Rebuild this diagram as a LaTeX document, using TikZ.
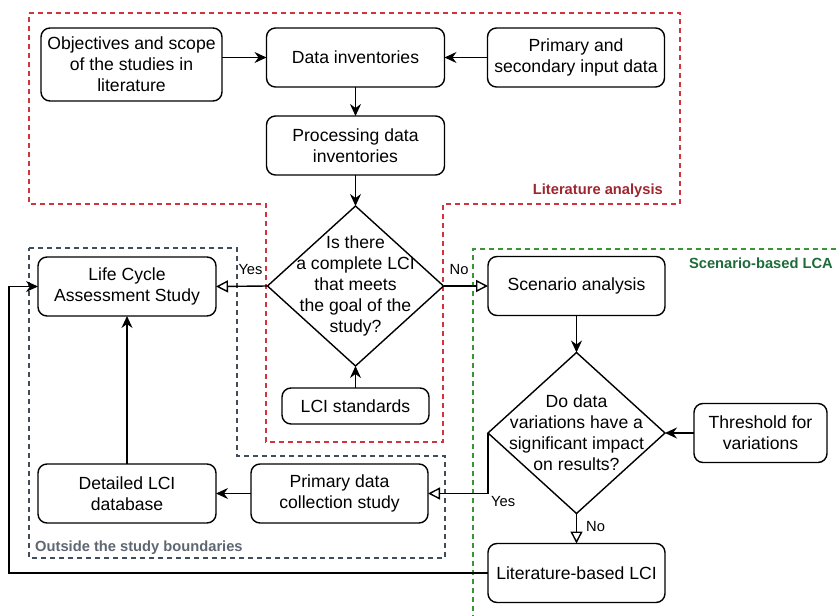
\documentclass[tikz,border=0pt]{standalone}
\usepackage{fontspec}
\setmainfont{Liberation Sans}
\usepackage{xcolor}
\usepackage{tikz}
\usetikzlibrary{positioning}
\usetikzlibrary{shapes.geometric}
\usetikzlibrary{arrows.meta}

\definecolor{litred}{HTML}{D0343C}
\definecolor{littext}{HTML}{9E2630}
\definecolor{outgray}{HTML}{3F4D5C}
\definecolor{outtext}{HTML}{5E6670}
\definecolor{scengreen}{HTML}{3A943A}
\definecolor{scentext}{HTML}{1E6B3A}
\newcommand{\figboxfont}{\fontsize{17.6}{21}\selectfont}
\newcommand{\figtagfont}{\fontsize{14.7}{17}\selectfont}

\begin{document}
\begin{tikzpicture}[x=1pt,y=-1pt,
  box/.style={draw,line width=1.4pt,rounded corners=9pt,align=center,inner sep=0pt,
    outer sep=0pt,minimum width=178pt,minimum height=59pt,font=\figboxfont},
  choice/.style={draw,diamond,line width=1.4pt,inner sep=0pt,outer sep=0pt,
    minimum width=177pt,minimum height=161pt},
  arr/.style={-{Stealth[length=12pt,width=11pt,inset=4pt]},line width=1.4pt},
  branch/.style={-{Triangle[open,length=12pt,width=12pt]},line width=1.4pt},
  lbl/.style={font=\figtagfont,inner sep=1pt},
  region/.style={line width=1.5pt,dash pattern=on 5pt off 4pt},
  tag/.style={font=\figtagfont\bfseries,inner sep=0pt}]
\useasboundingbox (0,0) rectangle (839,616);

% regions
\draw[region,litred] (29,13) -- (680,13) -- (680,204) -- (443,204) -- (443,442)
  -- (266,442) -- (266,204) -- (29,204) -- cycle;
\draw[region,outgray] (29,248) -- (237,248) -- (237,456) -- (445,456) -- (445,558)
  -- (29,558) -- cycle;
\draw[region,scengreen] (845,249) -- (473,249) -- (473,622);
\node[tag,text=littext,anchor=east]  (littag)  at (663,191) {Literature analysis};
\node[tag,text=outtext,anchor=west]  (outtag)  at (35,548)  {Outside the study boundaries};
\node[tag,text=scentext,anchor=east] (scentag) at (833,263) {Scenario-based LCA};

% literature analysis
\node[box] (inv) at (355.5,57.5) {Data inventories};
\node[box,minimum width=181pt,minimum height=73pt] (obj) at (131.5,64.5)
  {Objectives and scope\\of the studies in\\literature};
\node[box,minimum width=177pt] (prim) [right=43pt of inv] {Primary and\\secondary input data};
\node[box] (proc) [below=29pt of inv] {Processing data\\inventories};
\node[choice,minimum width=176pt,minimum height=160pt,
  label={[font=\figboxfont,align=center]center:{Is there\\a complete LCI\\that meets\\the goal of the\\study?}}]
  (q1) [below=31pt of proc] {};
\node[box,minimum width=147pt,minimum height=36pt] (std) [below=22pt of q1] {LCI standards};

% outside the study boundaries
\node[box] (lca) at (127,286.5) {Life Cycle\\Assessment Study};
\node[box] (det) at (127,493.5) {Detailed LCI\\database};
\node[box,minimum width=177pt] (pdc) [right=35pt of det] {Primary data\\collection study};

% scenario-based LCA
\node[box,minimum width=177pt] (scen) [right=44.5pt of q1] {Scenario analysis};
\node[choice,
  label={[font=\figboxfont,align=center]center:{Do data\\variations have a\\significant impact\\on results?}}]
  (q2) [below=37pt of scen] {};
\node[box,minimum width=133pt] (thr) [right=29pt of q2] {Threshold for\\variations};
\node[box,minimum width=177pt] (lit) [below=30pt of q2] {Literature-based LCI};
\coordinate (back) at (9,575);

% connectors
\draw[arr] (obj.east |- inv.west) -- (inv.west);
\draw[arr] (prim.west) -- (inv.east);
\draw[arr] (inv) -- (proc);
\draw[arr] (proc) -- (q1.north);
\draw[arr] (std) -- (q1.south);
\draw[branch] (q1.west) -- node[lbl,above=10pt,pos=0.33] (yes1) {Yes} (lca.east);
\draw[branch] (q1.east) -- node[lbl,above=10pt,pos=0.35] (no1) {No} (scen.west);
\draw[arr] (scen) -- (q2.north);
\draw[arr] (thr) -- (q2.east);
\draw[branch] (q2.west) |- node[lbl,below right=2pt,pos=0.5] (yes2) {Yes} (pdc.east);
\draw[branch] (q2.south) -- node[lbl,right=8pt,pos=0.45] (no2) {No} (lit.north);
\draw[arr] (pdc) -- (det);
\draw[arr] (det) -- (lca);
\draw[arr] (lit.west) -- (lit.west -| back) |- (lca.west);
\end{tikzpicture}
\end{document}
